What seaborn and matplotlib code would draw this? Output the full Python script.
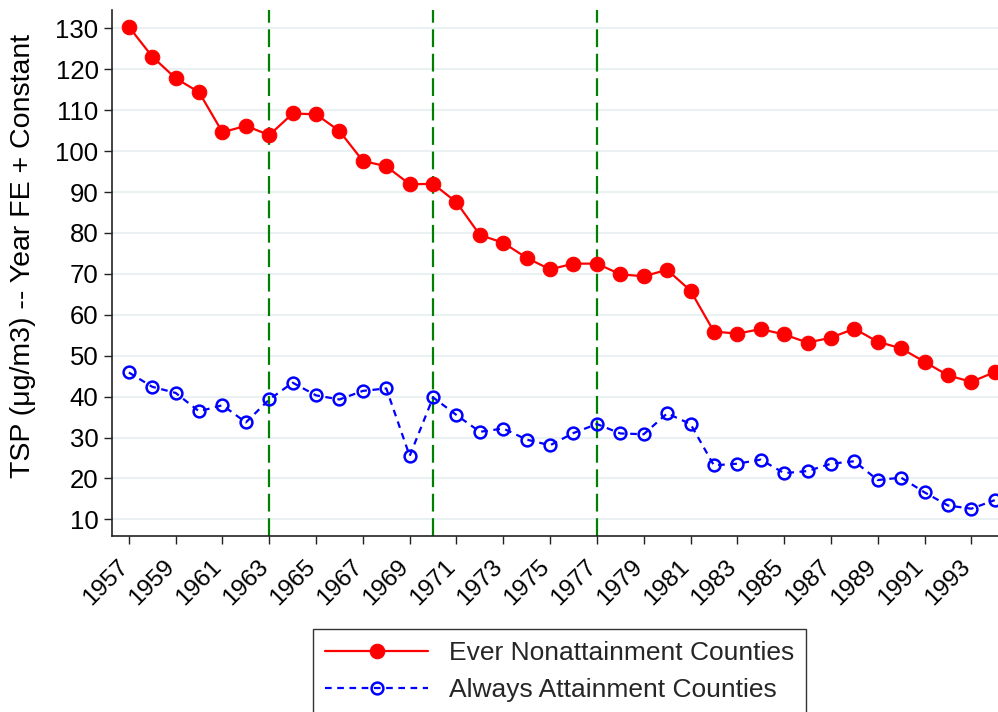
import pandas as pd
import matplotlib
matplotlib.use('Agg')
from matplotlib import pyplot as plt
import seaborn as sns

# data
years = list(range(1957, 1995))
nonattain = [130.4, 123.1, 117.8, 114.4, 104.6, 106.2, 103.9, 109.2, 109.0, 104.9,
             97.6, 96.3, 91.9, 92.0, 87.5, 79.5, 77.6, 73.9, 71.1, 72.5,
             72.5, 69.9, 69.4, 71.0, 65.9, 55.9, 55.4, 56.5, 55.2, 53.2,
             54.4, 56.6, 53.4, 51.8, 48.5, 45.2, 43.6, 46.0]
attain = [45.9, 42.4, 40.9, 36.4, 37.9, 33.7, 39.3, 43.4, 40.3, 39.3,
          41.4, 42.0, 25.5, 39.8, 35.5, 31.4, 32.2, 29.5, 28.1, 31.1,
          33.3, 31.0, 30.8, 35.9, 33.3, 23.2, 23.6, 24.6, 21.3, 21.8,
          23.6, 24.2, 19.6, 20.2, 16.6, 13.4, 12.6, 14.7]
event_years = [1963, 1970, 1977]
ylabel = 'TSP (μg/m3) -- Year FE + Constant'

df = pd.DataFrame({'year': years, 'nonattain': nonattain, 'attain': attain})

sns.set_style('white')
plt.rcParams['font.family'] = ['Liberation Sans', 'DejaVu Sans']

fig = plt.figure(figsize=(9.98, 7.12), dpi=100)
ax = fig.add_axes([0.112, 0.247, 0.888, 0.739])

# light horizontal grid
for v in range(10, 140, 10):
    ax.axhline(v, color='#eaf1f3', lw=1.5, zorder=0)

for yr in event_years:
    ax.axvline(yr, color='#008000', lw=1.6, dashes=(8, 3), zorder=1)

sns.lineplot(data=df, x='year', y='nonattain', ax=ax, color='red', lw=1.6,
             marker='o', markersize=10.5, markeredgecolor='red',
             label='Ever Nonattainment Counties', zorder=3)
sns.lineplot(data=df, x='year', y='attain', ax=ax, color='blue', lw=1.6,
             linestyle=(0, (3, 2.5)), marker='o', markersize=8.5,
             markerfacecolor='none', markeredgecolor='blue', markeredgewidth=1.8,
             label='Always Attainment Counties', zorder=3)

ax.set_xlim(1956.27, 1994.14)
ax.set_ylim(5.9, 134.5)
ax.set_yticks(range(10, 140, 10))
ax.set_xticks(range(1957, 1995, 2))
ax.set_xticklabels([str(y) for y in range(1957, 1995, 2)], rotation=45,
                   ha='right', va='baseline', rotation_mode='anchor')
ax.tick_params(axis='both', direction='out', length=6, width=1,
               color='#222222', labelcolor='black', bottom=True, left=True)
ax.tick_params(axis='y', labelsize=18.5)
ax.tick_params(axis='x', labelsize=17.5, pad=17)
ax.set_xlabel('')
ax.set_ylabel(ylabel, fontsize=20.5, color='black')
ax.yaxis.set_label_coords(-0.086, 0.532)

sns.despine(ax=ax, top=True, right=True)
for s in ['left', 'bottom']:
    ax.spines[s].set_color('#222222')
    ax.spines[s].set_linewidth(1.2)

leg = ax.legend(loc='upper center', bbox_to_anchor=(0.561, 0.1166),
                bbox_transform=fig.transFigure, fontsize=19, frameon=True,
                fancybox=False, edgecolor='black', handlelength=3.9,
                borderpad=0.45, labelspacing=0.5, borderaxespad=0,
                handletextpad=0.8)
leg.get_frame().set_linewidth(1.0)

plt.savefig('out.png', dpi=100)
plt.close()
